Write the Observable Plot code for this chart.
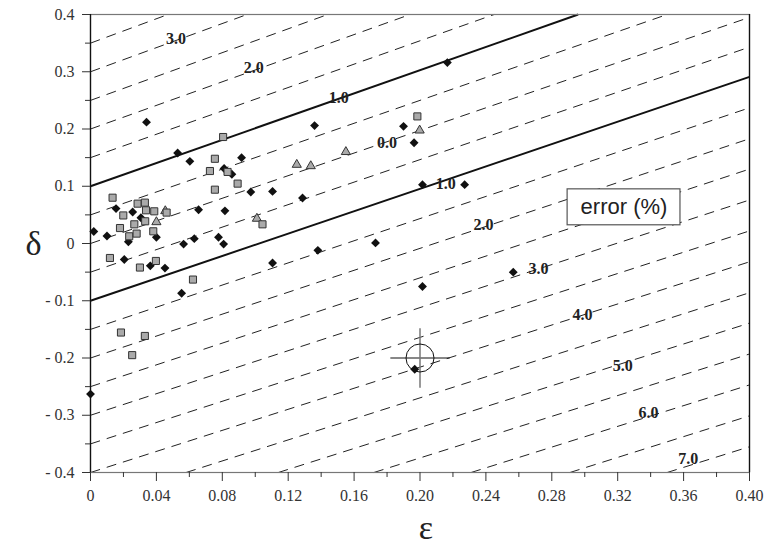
<!DOCTYPE html>
<html><head><meta charset="utf-8">
<script src="https://cdn.jsdelivr.net/npm/d3@7"></script>
<script src="https://cdn.jsdelivr.net/npm/@observablehq/plot@0.6"></script>
<style>body{margin:0;background:#fff;overflow:hidden} svg{display:block}</style>
</head><body><div id="chart"></div>
<script>
// ---- data ----
const diamondEps   = [0.002,0.010,0.0155,0.023,0.0256,0.0306,0.0205,0.0363,0.040,0.0452,0.0565,0.063,0.0656,0.0777,0.0808,0.0816,0.0553,0.0973,0.0,0.034,0.0529,0.0603,0.0811,0.0858,0.0917,0.136,0.2166,0.190,0.1964,0.1105,0.1287,0.2015,0.2271,0.1105,0.138,0.173,0.2015,0.1968,0.2566];
const diamondDelta = [0.021,0.013,0.061,0.003,0.055,0.045,-0.028,-0.039,0.011,-0.043,-0.001,0.0085,0.059,0.011,-0.001,0.057,-0.087,0.090,-0.263,0.212,0.158,0.1435,0.131,0.121,0.150,0.206,0.316,0.2046,0.176,0.091,0.0795,0.1028,0.1028,-0.034,-0.012,0.001,-0.075,-0.2196,-0.050];

const squareEps   = [0.0134,0.0286,0.033,0.0337,0.0387,0.0462,0.0199,0.0332,0.0266,0.0179,0.0381,0.0235,0.028,0.0118,0.0397,0.030,0.0622,0.0185,0.033,0.0253,0.0805,0.0755,0.0725,0.0832,0.0755,0.0893,0.1984,0.1044];
const squareDelta = [0.080,0.0696,0.0714,0.058,0.0562,0.054,0.049,0.0388,0.0335,0.027,0.0213,0.0126,0.0173,-0.0253,-0.0305,-0.042,-0.063,-0.1555,-0.1615,-0.195,0.186,0.148,0.1266,0.125,0.094,0.1046,0.222,0.0335];

const triangleEps   = [0.040,0.0454,0.101,0.1252,0.1337,0.155,0.1998];
const triangleDelta = [0.0375,0.0567,0.0435,0.1377,0.1353,0.16,0.1976];

// dashed error contours: start / end points (ε, δ)
const dashEps1   = [0,0,0,0,0,0,0,0,0,0,0,0,0,0,0.058,0.114,0.172,0.231,0.291,0.350];
const dashDelta1 = [0.35,0.30,0.25,0.20,0.15,0.05,0.00,-0.05,-0.15,-0.20,-0.25,-0.30,-0.35,-0.40,-0.4,-0.4,-0.4,-0.4,-0.4,-0.4];
const dashEps2   = [0.047,0.095,0.144,0.194,0.245,0.350,0.4,0.4,0.4,0.4,0.4,0.4,0.4,0.4,0.4,0.4,0.4,0.4,0.4,0.4];
const dashDelta2 = [0.4,0.4,0.4,0.4,0.4,0.4,0.395,0.343,0.237,0.183,0.130,0.076,0.022,-0.032,-0.086,-0.139,-0.193,-0.247,-0.301,-0.355];

// solid 1% contours
const solidEps1   = [0, 0];
const solidDelta1 = [0.1, -0.1];
const solidEps2   = [0.296, 0.4];
const solidDelta2 = [0.4, 0.291];

// contour labels
const labelText  = ["3.0","2.0","1.0","0.0","1.0","2.0","3.0","4.0","5.0","6.0","7.0"];
const labelEps   = [0.0519,0.0991,0.1507,0.180,0.2156,0.2386,0.272,0.2987,0.323,0.3387,0.3628];
const labelDelta = [0.358,0.306,0.255,0.176,0.105,0.032,-0.045,-0.125,-0.214,-0.296,-0.377];

// reference marker
const crossEps = [0.2];
const crossDelta = [-0.2];
const crossErrEps = [0.018];
const crossErrDelta = [0.052];

// ticks
const xTicks = [0,0.04,0.08,0.12,0.16,0.20,0.24,0.28,0.32,0.36,0.40];
const xMinor = [0.02,0.06,0.10,0.14,0.18,0.22,0.26,0.30,0.34,0.38];
const yTicks = [-0.4,-0.3,-0.2,-0.1,0,0.1,0.2,0.3,0.4];
const yMinor = [-0.35,-0.25,-0.15,-0.05,0.05,0.15,0.25,0.35];

// ---- tables ----
const diamonds = diamondEps.map((e,i)=>({e, d: diamondDelta[i]}));
const squares = squareEps.map((e,i)=>({e, d: squareDelta[i]}));
const triangles = triangleEps.map((e,i)=>({e, d: triangleDelta[i]}));
const dashed = dashEps1.map((e,i)=>({e1:e, d1:dashDelta1[i], e2:dashEps2[i], d2:dashDelta2[i]}));
const solid = solidEps1.map((e,i)=>({e1:e, d1:solidDelta1[i], e2:solidEps2[i], d2:solidDelta2[i]}));
const labels = labelText.map((t,i)=>({t, e: labelEps[i], d: labelDelta[i]}));
const cross = crossEps.map((e,i)=>({e, d: crossDelta[i], he: crossErrEps[i], hd: crossErrDelta[i]}));

const fmtY = v => v === 0 ? "0" : (v < 0 ? "- " + Math.abs(v).toFixed(1) : v.toFixed(1));
const fmtX = v => v === 0 ? "0" : v.toFixed(2);
const serif = "'Liberation Serif','DejaVu Serif',serif";

const chart = Plot.plot({
  width: 768, height: 552,
  marginLeft: 90, marginRight: 19, marginTop: 14, marginBottom: 80,
  x: {domain: [0, 0.4], label: null},
  y: {domain: [-0.4, 0.4], label: null},
  style: {fontFamily: serif, background: "#fff", overflow: "visible"},
  marks: [
    Plot.link(dashed, {x1: "e1", y1: "d1", x2: "e2", y2: "d2", stroke: "#222", strokeWidth: 1, strokeDasharray: "10,7"}),
    Plot.link(solid, {x1: "e1", y1: "d1", x2: "e2", y2: "d2", stroke: "#111", strokeWidth: 2}),
    Plot.frame({stroke: "#777", strokeWidth: 1.2}),
    Plot.ruleX([0, 0.4], {stroke: "#111", strokeWidth: 1.3}),
    Plot.axisY({ticks: yTicks, tickSize: 8, tickPadding: 8, tickFormat: fmtY, fontSize: 16, fill: "#333", stroke: "#333", label: null}),
    Plot.axisY({ticks: yMinor, tickSize: 5, tickFormat: () => "", stroke: "#333", label: null}),
    Plot.axisX({ticks: xTicks, tickSize: 9, tickPadding: 8, tickFormat: fmtX, fontSize: 16, fill: "#333", stroke: "#333", label: null}),
    Plot.axisX({ticks: xMinor, tickSize: 5, tickFormat: () => "", stroke: "#333", label: null}),
    Plot.text(labels, {x: "e", y: "d", text: "t", fontSize: 16, fontWeight: "bold", fill: "#222", fontFamily: serif}),
    Plot.rect([{}], {x1: 0.2896, x2: 0.3581, y1: 0.0318, y2: 0.0946, fill: "#fff", stroke: "#555", strokeWidth: 1.2}),
    Plot.text(["error (%)"], {x: 0.3238, y: 0.0632, text: d => d, fontSize: 22, fill: "#222", fontFamily: "'Liberation Sans',Arial,sans-serif"}),
    Plot.dot(triangles, {x: "e", y: "d", symbol: "triangle", r: 3.4, fill: "#aaa", stroke: "#333", strokeWidth: 1}),
    Plot.dot(diamonds, {x: "e", y: "d", symbol: "diamond2", r: 4, fill: "#111", stroke: "none"}),
    Plot.dot(squares, {x: "e", y: "d", symbol: "square", r: 4, fill: "#aaa", stroke: "#333", strokeWidth: 1}),
    Plot.link(cross, {x1: d => d.e - d.he, x2: d => d.e + d.he, y1: "d", y2: "d", stroke: "#111", strokeWidth: 1.2}),
    Plot.link(cross, {x1: "e", x2: "e", y1: d => d.d - d.hd, y2: d => d.d + d.hd, stroke: "#777", strokeWidth: 1.5}),
    Plot.dot(cross, {x: "e", y: "d", r: 14, fill: "none", stroke: "#111", strokeWidth: 1}),
    Plot.text(["δ"], {frameAnchor: "left", dx: -65, dy: 1, text: d => d, fontSize: 34, fill: "#222", fontFamily: serif}),
    Plot.text(["ε"], {frameAnchor: "bottom", dx: 6, dy: 66, text: d => d, fontSize: 34, fill: "#222", fontFamily: serif})
  ]
});
// force serif face on all text except the sans-serif legend box
chart.querySelectorAll("text").forEach(t => {
  if (t.textContent !== "error (%)") {
    t.style.fontFamily = serif;
    t.style.fontVariant = "normal";
  }
});
document.getElementById("chart").append(chart);
</script>
</body></html>
